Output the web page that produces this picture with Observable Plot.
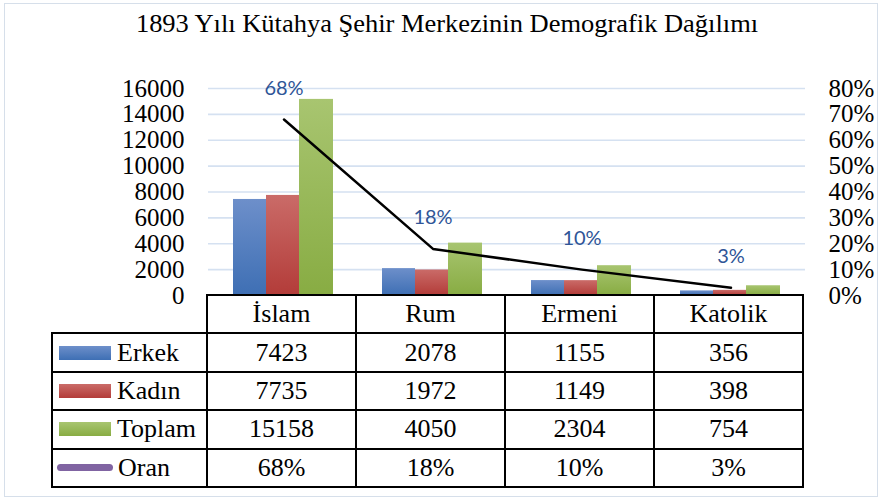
<!DOCTYPE html>
<html><head><meta charset="utf-8">
<script src="https://cdn.jsdelivr.net/npm/d3@7"></script>
<script src="https://cdn.jsdelivr.net/npm/@observablehq/plot@0.6"></script>
<style>
body{margin:0;background:#fff;}
#wrap{position:relative;width:881px;height:499px;overflow:hidden;font-family:"Times New Roman","Liberation Serif","DejaVu Serif",serif;background:#fff;}
#frame{position:absolute;left:4px;top:3px;width:874px;height:494px;border:1px solid #d6dfea;box-sizing:border-box;}
#title{position:absolute;left:0;top:10px;width:894px;text-align:center;font-size:24.5px;color:#000;white-space:nowrap;transform:scaleX(1.08);transform-origin:447px 0;}
#chart{position:absolute;left:0;top:60px;}
#tbl{position:absolute;left:51px;top:294px;border-collapse:collapse;table-layout:fixed;font-size:26px;color:#000;}
#tbl td{border:2px solid #000;height:36.4px;padding:0;text-align:center;line-height:34px;white-space:nowrap;overflow:hidden;}
#tbl td.lab{text-align:left;padding-left:6px;}
#tbl td.blank{border:none;border-bottom:2px solid #000;}
.sw{display:inline-block;width:52px;height:14px;vertical-align:middle;margin-right:6px;position:relative;top:-2px;}
.swl{display:inline-block;width:56px;height:7px;border-radius:4px;vertical-align:middle;margin-left:-2px;margin-right:5px;position:relative;top:-2px;background:#8064a2;}
</style>
</head><body>
<svg width="0" height="0" style="position:absolute">
 <defs>
  <linearGradient id="gBlue" x1="0" y1="0" x2="0" y2="1"><stop offset="0" stop-color="#6d8fca"/><stop offset="1" stop-color="#3e6fb4"/></linearGradient>
  <linearGradient id="gRed" x1="0" y1="0" x2="0" y2="1"><stop offset="0" stop-color="#ca6b68"/><stop offset="1" stop-color="#b33c39"/></linearGradient>
  <linearGradient id="gGreen" x1="0" y1="0" x2="0" y2="1"><stop offset="0" stop-color="#a8c570"/><stop offset="1" stop-color="#88ac43"/></linearGradient>
 </defs>
</svg>
<div id="wrap">
 <div id="frame"></div>
 <div id="title"></div>
 <div id="chart"></div>
 <table id="tbl"></table>
</div>
<script>
const title = "1893 Yılı Kütahya Şehir Merkezinin Demografik Dağılımı";
const categories = ["İslam", "Rum", "Ermeni", "Katolik"];
const erkek = [7423, 2078, 1155, 356];
const kadin = [7735, 1972, 1149, 398];
const toplam = [15158, 4050, 2304, 754];
const oran = [0.68, 0.18, 0.10, 0.03];
const seriesNames = ["Erkek", "Kadın", "Toplam", "Oran"];
const leftTicks = [0, 2000, 4000, 6000, 8000, 10000, 12000, 14000, 16000];
const rightTicks = [0, 0.1, 0.2, 0.3, 0.4, 0.5, 0.6, 0.7, 0.8];
const countMax = 16000, ratioMax = 0.8;
const k = countMax / ratioMax;

document.getElementById("title").textContent = title;

const rows = categories.map((c, i) => ({category: c, erkek: erkek[i], kadin: kadin[i], toplam: toplam[i], oran: oran[i]}));

const chart = Plot.plot({
  width: 881, height: 247,
  marginLeft: 208, marginRight: 76, marginTop: 28, marginBottom: 12,
  style: {fontFamily: "'Times New Roman', 'Liberation Serif', 'DejaVu Serif', serif", fontSize: "25px", color: "#000", background: "transparent", overflow: "visible"},
  x: {domain: categories, padding: 0, axis: null},
  y: {domain: [0, countMax], axis: null},
  marks: [
    Plot.gridY(leftTicks.filter(d => d > 0), {stroke: "#d5e1f1", strokeOpacity: 1, strokeWidth: 1.6}),
    Plot.barY(rows, {x: "category", y: "erkek", fill: "url(#gBlue)", insetLeft: 24, insetRight: 92}),
    Plot.barY(rows, {x: "category", y: "kadin", fill: "url(#gRed)", insetLeft: 57, insetRight: 59}),
    Plot.barY(rows, {x: "category", y: "toplam", fill: "url(#gGreen)", insetLeft: 90, insetRight: 25}),
    Plot.line(rows, {x: "category", y: d => d.oran * k, stroke: "#000", strokeWidth: 2.5}),
    Plot.text(rows, {x: "category", y: d => d.oran * k, text: d => Math.round(d.oran * 100) + "%", dy: -31, fill: "#2f5597", fontFamily: "Lato", fontSize: 20}),
    Plot.axisY({anchor: "left", ticks: leftTicks, tickSize: 0, tickPadding: 24, tickFormat: d => String(d), fill: "#000"}),
    Plot.axisY({anchor: "right", ticks: rightTicks.map(r => r * k), tickSize: 0, tickPadding: 23, tickFormat: d => Math.round(d / k * 100) + "%", fill: "#000"})
  ]
});
document.getElementById("chart").appendChild(chart);

// data table
const tbl = document.getElementById("tbl");
const cg = document.createElement("colgroup");
[155, 149, 149, 149, 149].forEach(w => { const c = document.createElement("col"); c.style.width = w + "px"; cg.appendChild(c); });
tbl.appendChild(cg);
const head = tbl.insertRow();
const b = head.insertCell(); b.className = "blank";
categories.forEach(c => { head.insertCell().textContent = c; });
const series = [erkek, kadin, toplam, oran];
const swClass = ["gBlue", "gRed", "gGreen", null];
const swColors = {gBlue: ["#6d8fca", "#3e6fb4"], gRed: ["#ca6b68", "#b33c39"], gGreen: ["#a8c570", "#88ac43"]};
series.forEach((vals, si) => {
  const r = tbl.insertRow();
  const lab = r.insertCell(); lab.className = "lab";
  const sw = document.createElement("span");
  if (swClass[si]) { sw.className = "sw"; const g = swColors[swClass[si]]; sw.style.background = `linear-gradient(${g[0]}, ${g[1]})`; }
  else sw.className = "swl";
  lab.appendChild(sw);
  lab.appendChild(document.createTextNode(seriesNames[si]));
  vals.forEach(v => { r.insertCell().textContent = si === 3 ? Math.round(v * 100) + "%" : String(v); });
});
</script>
</body></html>
